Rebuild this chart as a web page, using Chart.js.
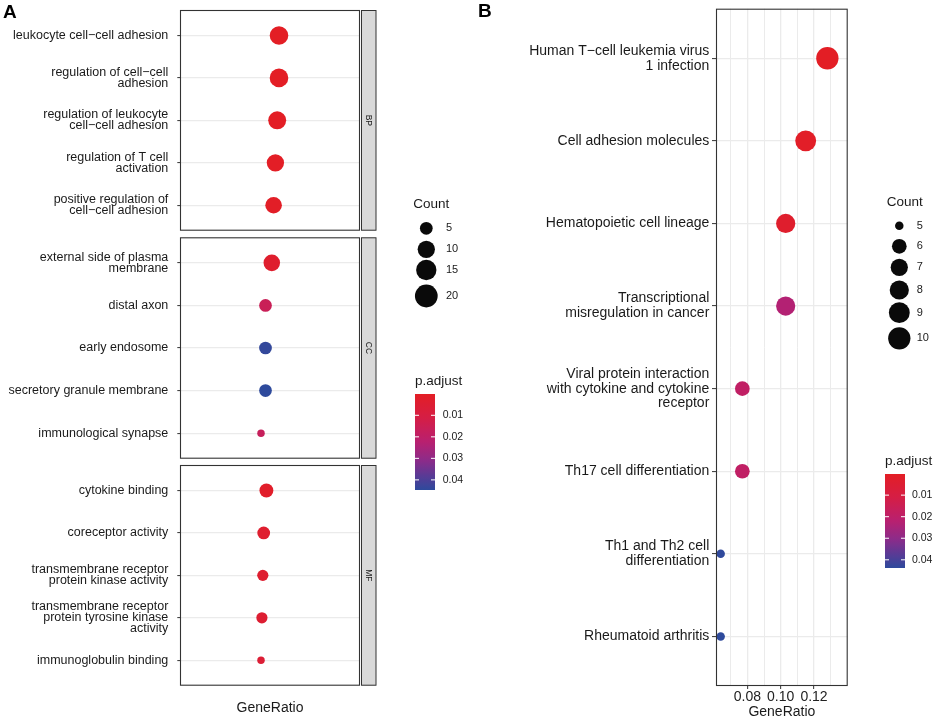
<!DOCTYPE html>
<html>
<head>
<meta charset="utf-8">
<title>GO / KEGG dot plots</title>
<script src="https://cdn.jsdelivr.net/npm/chart.js@4.4.1/dist/chart.umd.min.js"></script>
<style>
  body { margin: 0; background: #fff; }
  #page { position: relative; width: 934px; height: 721px; overflow: hidden; }
  #page canvas { position: absolute; }
  .tag { position: absolute; font: bold 19px "Liberation Sans", Arial, sans-serif; line-height: 1; color: #000; }
</style>
</head>
<body>
<div id="page">
  <canvas id="chartBP" width="470" height="240" style="left:0;top:0"></canvas>
  <canvas id="chartCC" width="470" height="330" style="left:0;top:180px"></canvas>
  <canvas id="chartMF" width="470" height="261" style="left:0;top:460px"></canvas>
  <canvas id="chartKEGG" width="464" height="721" style="left:470px;top:0"></canvas>
  <div class="tag" style="left:3px;top:2px">A</div>
  <div class="tag" style="left:478px;top:1px">B</div>
</div>
<script>
const FONT = '"Liberation Sans", Arial, Helvetica, sans-serif';
Chart.defaults.font.family = FONT;

// ---- panel A: GO terms, one facet per ontology (top to bottom) ----
const bpTerms = ['leukocyte cell−cell adhesion', ['regulation of cell−cell', 'adhesion'],
  ['regulation of leukocyte', 'cell−cell adhesion'], ['regulation of T cell', 'activation'],
  ['positive regulation of', 'cell−cell adhesion']];
const bpRatio = [0.110, 0.110, 0.108, 0.106, 0.104];
const bpCount = [12, 12, 11, 10, 9];
const bpPadj = [0.0001, 0.0001, 0.0002, 0.0004, 0.0008];

const ccTerms = [['external side of plasma', 'membrane'], 'distal axon', 'early endosome',
  'secretory granule membrane', 'immunological synapse'];
const ccRatio = [0.102, 0.095, 0.095, 0.095, 0.090];
const ccCount = [9, 5, 5, 5, 3];
const ccPadj = [0.0030, 0.0160, 0.0440, 0.0447, 0.0170];

const mfTerms = ['cytokine binding', 'coreceptor activity',
  ['transmembrane receptor', 'protein kinase activity'],
  ['transmembrane receptor', 'protein tyrosine kinase', 'activity'], 'immunoglobulin binding'];
const mfRatio = [0.096, 0.093, 0.092, 0.091, 0.090];
const mfCount = [6, 5, 4, 4, 3];
const mfPadj = [0.0020, 0.0035, 0.0040, 0.0045, 0.0060];

// ---- panel B: KEGG pathways ----
const keggTerms = [['Human T−cell leukemia virus', '1 infection'], 'Cell adhesion molecules',
  'Hematopoietic cell lineage', ['Transcriptional', 'misregulation in cancer'],
  ['Viral protein interaction', 'with cytokine and cytokine', 'receptor'],
  'Th17 cell differentiation', ['Th1 and Th2 cell', 'differentiation'], 'Rheumatoid arthritis'];
const keggRatio = [0.128, 0.115, 0.103, 0.103, 0.077, 0.077, 0.064, 0.064];
const keggCount = [10, 9, 8, 8, 6, 6, 5, 5];
const keggPadj = [0.0002, 0.0012, 0.0030, 0.0230, 0.0190, 0.0190, 0.0435, 0.0438];

const goRange = [0, 0.2];            // panel A GeneRatio axis (drawn without ticks)
const keggRange = [0.0612, 0.1402];
const keggMajor = [0.08, 0.10, 0.12];
const keggMinor = [0.07, 0.09, 0.11, 0.13];
const goCountBreaks = [5, 10, 15, 20];
const keggCountBreaks = [5, 6, 7, 8, 9, 10];
const padjBreaks = [0.01, 0.02, 0.03, 0.04];

// red (small p.adjust) -> blue (large p.adjust)
const RAMP = [[0, '#E31E25'], [0.25, '#D51E45'], [0.5, '#B82070'], [0.7, '#8A2C8A'], [0.85, '#5A3A95'], [1, '#2E4A9C']];
function hex(h) { return [1, 3, 5].map(i => parseInt(h.substr(i, 2), 16)); }
function ramp(t) {
  t = Math.min(1, Math.max(0, t));
  for (let k = 1; k < RAMP.length; k++) {
    if (t <= RAMP[k][0]) {
      const [t0, c0] = RAMP[k - 1], [t1, c1] = RAMP[k];
      const f = (t - t0) / (t1 - t0), a = hex(c0), b = hex(c1);
      return 'rgb(' + a.map((v, j) => Math.round(v + (b[j] - v) * f)).join(',') + ')';
    }
  }
  return RAMP[RAMP.length - 1][1];
}

const goSize = c => (7.5 + 3.7 * Math.sqrt(Math.max(c - 3, 0))) / 2;
const keggSize = c => (8.5 + 13.8 * Math.sqrt((c - 5) / 5)) / 2;

const goP = [...bpPadj, ...ccPadj, ...mfPadj];
const goPmin = Math.min(...goP), goPmax = Math.max(...goP);
const keggPmin = Math.min(...keggPadj), keggPmax = Math.max(...keggPadj);

function drawSideLegend(ctx, L, ox, oy) {
  ctx.save();
  ctx.textAlign = 'left';
  ctx.textBaseline = 'middle';
  ctx.fillStyle = '#1a1a1a';
  ctx.font = '13.5px ' + FONT;
  ctx.fillText('Count', L.countX - ox, L.countY - oy);
  L.breaks.forEach((c, i) => {
    const y = L.keyY[i] - oy;
    ctx.fillStyle = '#0a0a0a';
    ctx.beginPath();
    ctx.arc(L.keyX - ox, y, L.size(c), 0, Math.PI * 2);
    ctx.fill();
    ctx.fillStyle = '#1a1a1a';
    ctx.font = '11px ' + FONT;
    ctx.fillText(String(c), L.keyLabelX - ox, y);
  });

  ctx.font = '13.5px ' + FONT;
  ctx.fillText('p.adjust', L.barX - ox, L.barTitleY - oy);
  const x0 = L.barX - ox, y0 = L.barY - oy, w = 20, h = L.barH;
  const g = ctx.createLinearGradient(0, y0, 0, y0 + h);
  for (let k = 0; k <= 40; k++) g.addColorStop(k / 40, ramp(k / 40));
  ctx.fillStyle = g;
  ctx.fillRect(x0, y0, w, h);
  padjBreaks.forEach(v => {
    const y = y0 + (v - L.pmin) / (L.pmax - L.pmin) * h;
    ctx.strokeStyle = '#fff';
    ctx.lineWidth = 1;
    ctx.beginPath();
    ctx.moveTo(x0, y); ctx.lineTo(x0 + 4, y);
    ctx.moveTo(x0 + w - 4, y); ctx.lineTo(x0 + w, y);
    ctx.stroke();
    ctx.fillStyle = '#1a1a1a';
    ctx.font = '10.5px ' + FONT;
    ctx.fillText(v.toFixed(2), L.barLabelX - ox, y);
  });
  ctx.restore();
}

// panel border, facet strip and (optionally) the legends
function panelDeco(opt) {
  return {
    id: 'panelDeco',
    afterDraw(chart) {
      const { ctx, chartArea: a } = chart;
      ctx.save();
      ctx.strokeStyle = '#333';
      ctx.lineWidth = 1.1;
      ctx.strokeRect(a.left + 0.5, a.top + 0.5, a.right - a.left - 1, a.bottom - a.top - 1);
      if (opt.strip) {
        ctx.fillStyle = '#D9D9D9';
        ctx.fillRect(a.right + 1, a.top, 15, a.bottom - a.top);
        ctx.lineWidth = 1;
        ctx.strokeRect(a.right + 1.5, a.top + 0.5, 14.5, a.bottom - a.top - 1);
        ctx.save();
        ctx.translate(a.right + 8.5, (a.top + a.bottom) / 2);
        ctx.rotate(Math.PI / 2);
        ctx.fillStyle = '#1a1a1a';
        ctx.font = '8.5px ' + FONT;
        ctx.textAlign = 'center';
        ctx.textBaseline = 'middle';
        ctx.fillText(opt.strip, 0, 0);
        ctx.restore();
      }
      ctx.restore();
      if (opt.legend) drawSideLegend(ctx, opt.legend, opt.ox, opt.oy);
    }
  };
}

function termAxis(terms, width, size, lineHeight, tickLen, pad) {
  return {
    type: 'linear', reverse: true, min: -0.6, max: terms.length - 0.4,
    afterBuildTicks: s => { s.ticks = terms.map((_, i) => ({ value: i })); },
    afterFit: s => { s.width = width; s.paddingTop = 0; s.paddingBottom = 0; },
    ticks: { autoSkip: false, padding: pad, color: '#1a1a1a', font: { size, lineHeight }, callback: v => terms[v] },
    grid: { color: '#EBEBEB', lineWidth: 1.2, tickLength: tickLen, tickColor: '#333', tickWidth: 1 },
    border: { display: false }
  };
}

function dotData(ratio, count, padj, size, pmin, pmax) {
  return {
    datasets: [{
      data: ratio.map((x, i) => ({ x, y: i, r: size(count[i]) })),
      backgroundColor: padj.map(p => ramp((p - pmin) / (pmax - pmin))),
      borderWidth: 0, hoverRadius: 0, hoverBorderWidth: 0
    }]
  };
}

const baseOptions = {
  responsive: false, animation: false, events: [],
  plugins: { legend: { display: false }, tooltip: { enabled: false } }
};

function goFacet(id, f) {
  const x = {
    type: 'linear', min: goRange[0], max: goRange[1], display: !!f.title,
    ticks: { display: false }, grid: { display: false }, border: { display: false },
    title: { display: true, text: 'GeneRatio', color: '#1a1a1a', font: { size: 14, lineHeight: 1 }, padding: { top: 0, bottom: 6 } }
  };
  if (f.title) x.afterFit = s => { s.height = 35.3; s.paddingLeft = 0; s.paddingRight = 0; };
  return new Chart(document.getElementById(id), {
    type: 'bubble',
    data: dotData(f.ratio, f.count, f.padj, goSize, goPmin, goPmax),
    options: {
      ...baseOptions,
      layout: { autoPadding: false, padding: { left: 0, top: f.top, right: 110, bottom: f.bottom } },
      scales: { x, y: termAxis(f.terms, 180, 12.5, 0.88, 2.7, 9) }
    },
    plugins: [panelDeco({ strip: f.strip, legend: f.legend, ox: 0, oy: f.oy })]
  });
}

goFacet('chartBP', { terms: bpTerms, ratio: bpRatio, count: bpCount, padj: bpPadj, strip: 'BP', top: 10, bottom: 9.3, oy: 0 });
goFacet('chartCC', {
  terms: ccTerms, ratio: ccRatio, count: ccCount, padj: ccPadj, strip: 'CC', top: 57.3, bottom: 51.3, oy: 180,
  legend: {
    countX: 413.3, countY: 204.7, breaks: goCountBreaks, size: goSize, keyX: 426.3,
    keyY: [228.3, 249.3, 270, 296], keyLabelX: 446,
    barX: 415, barTitleY: 381.7, barY: 394, barH: 96, barLabelX: 442.7, pmin: goPmin, pmax: goPmax
  }
});
goFacet('chartMF', { terms: mfTerms, ratio: mfRatio, count: mfCount, padj: mfPadj, strip: 'MF', top: 5, bottom: 0, oy: 460, title: true });

const isMajor = v => keggMajor.some(m => Math.abs(m - v) < 1e-9);

new Chart(document.getElementById('chartKEGG'), {
  type: 'bubble',
  data: dotData(keggRatio, keggCount, keggPadj, keggSize, keggPmin, keggPmax),
  options: {
    ...baseOptions,
    layout: { autoPadding: false, padding: { left: 0, top: 8.7, right: 86.3, bottom: 0 } },
    scales: {
      x: {
        type: 'linear', min: keggRange[0], max: keggRange[1],
        afterBuildTicks: s => { s.ticks = [...keggMinor, ...keggMajor].sort((a, b) => a - b).map(value => ({ value })); },
        afterFit: s => { s.height = 35; s.paddingLeft = 0; s.paddingRight = 0; },
        ticks: { autoSkip: false, maxRotation: 0, padding: 0, color: '#222', font: { size: 14 }, callback: v => isMajor(v) ? v.toFixed(2) : '' },
        grid: {
          color: '#EBEBEB',
          lineWidth: c => (c.tick && isMajor(c.tick.value)) ? 1.3 : 1.0,
          tickLength: 3,
          tickColor: c => (c.tick && isMajor(c.tick.value)) ? '#333' : 'rgba(0,0,0,0)',
          tickWidth: 1
        },
        border: { display: false },
        title: { display: true, text: 'GeneRatio', color: '#1a1a1a', font: { size: 14, lineHeight: 1 }, padding: { top: 0, bottom: 2 } }
      },
      y: termAxis(keggTerms, 246, 14, 1.07, 4, 2.7)
    }
  },
  plugins: [panelDeco({
    ox: 470, oy: 0,
    legend: {
      countX: 886.7, countY: 202.7, breaks: keggCountBreaks, size: keggSize, keyX: 899.3,
      keyY: [225.7, 246.3, 267.3, 290, 312.7, 338.3], keyLabelX: 916.7,
      barX: 885, barTitleY: 461, barY: 474, barH: 94, barLabelX: 912, pmin: keggPmin, pmax: keggPmax
    }
  })]
});
</script>
</body>
</html>
